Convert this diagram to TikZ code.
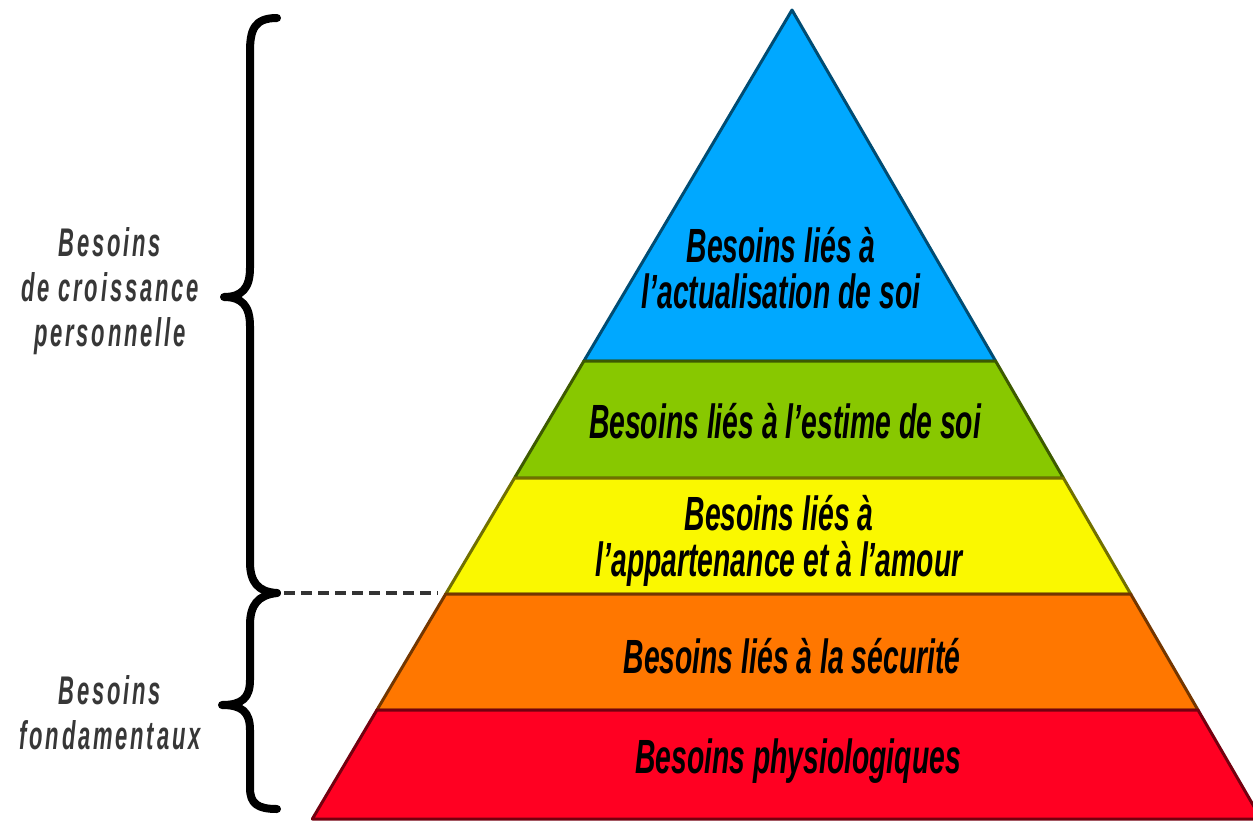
\documentclass[tikz,border=0pt]{standalone}
\usepackage{fontspec}
\setmainfont{Liberation Sans}
\newfontfamily\pyrfont[FakeStretch=0.59]{Liberation Sans}
\newfontfamily\sidefont[FakeStretch=0.55,LetterSpace=7]{Liberation Sans}
\definecolor{cblue}{RGB}{0,168,255}
\definecolor{cgreen}{RGB}{136,200,0}
\definecolor{cyellow}{RGB}{250,248,0}
\definecolor{corange}{RGB}{255,119,0}
\definecolor{cred}{RGB}{255,0,34}
\definecolor{ink}{RGB}{20,20,20}
\tikzset{
  layer/.style={fill=#1, draw=#1!45!black, line width=3pt, line join=round},
  pyrtext/.style={font=\pyrfont\bfseries\itshape\fontsize{48}{46}\selectfont, text=black, align=center, inner sep=0pt, anchor=base},
  sidetext/.style={font=\sidefont\bfseries\itshape\fontsize{40}{45}\selectfont, text=ink!85, align=center, inner sep=0pt, anchor=base},
  bracestroke/.style={draw=black, line width=8pt, line cap=round, line join=round},
  sep/.style={draw=black!80, line width=4.5pt, dash pattern=on 11pt off 6pt}
}
\begin{document}
\begin{tikzpicture}[x=1pt,y=-1pt]
\useasboundingbox (0,0) rectangle (1253,822);
\clip (0,0) rectangle (1253,822);
% pyramid layers
\path[layer=cblue]   (792,10) -- (995.6,361) -- (583.9,361) -- cycle;
\path[layer=cgreen]  (583.9,361) -- (995.6,361) -- (1063.4,478) -- (514.5,478) -- cycle;
\path[layer=cyellow] (514.5,478) -- (1063.4,478) -- (1130.7,594) -- (445.7,594) -- cycle;
\path[layer=corange] (445.7,594) -- (1130.7,594) -- (1198,710) -- (376.9,710) -- cycle;
\path[layer=cred]    (376.9,710) -- (1198,710) -- (1261.2,819) -- (312.3,819) -- cycle;
% labels (base anchor = baseline of the last line)
\node[pyrtext] (actualisation) at (781,308) {Besoins liés à\\l’actualisation de soi};
\node[pyrtext] (estime) at (785,438) {Besoins liés à l’estime de soi};
\node[pyrtext] (appartenance) at (779,576) {Besoins liés à\\l’appartenance et à l’amour};
\node[pyrtext] (securite) at (792,673) {Besoins liés à la sécurité};
\node[pyrtext] (physio) at (798,773) {Besoins physiologiques};
% side labels
\node[sidetext] (croissance) at (110,346) {Besoins\\de croissance\\personnelle};
\node[sidetext] (fondamentaux) at (110,749) {Besoins\\fondamentaux};
% braces
\path[bracestroke] (277,18) .. controls (254,18) and (250,30) .. (250,52) -- (250,268)
  .. controls (250,288) and (242,297) .. (224,297)
  .. controls (242,297) and (250,306) .. (250,326) -- (250,562)
  .. controls (250,582) and (258,592) .. (277,593);
\path[bracestroke] (277,593) .. controls (258,595) and (250,605) .. (250,625) -- (250,680)
  .. controls (250,698) and (242,705) .. (222,705)
  .. controls (242,705) and (250,712) .. (250,730) -- (250,788)
  .. controls (250,804) and (258,809) .. (277,809);
% separator
\coordinate (junction) at (284,593);
\coordinate (edge) at (438,593);
\draw[sep] (junction) -- (edge);
\end{tikzpicture}
\end{document}
